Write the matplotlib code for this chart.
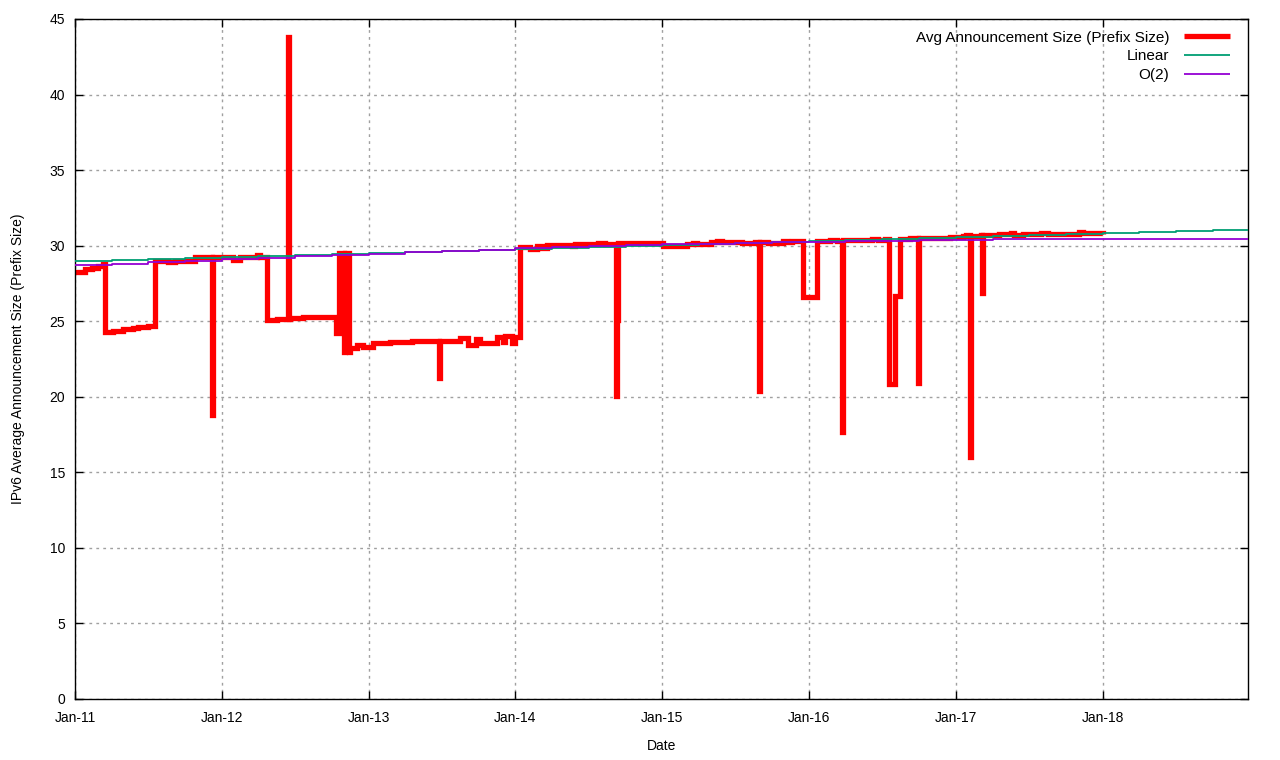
import matplotlib
matplotlib.use('Agg')
import matplotlib.pyplot as plt
import matplotlib.dates as mdates
import pandas as pd

# decimal years and avg prefix size
avg_years = [2011.000, 2011.068, 2011.116, 2011.157, 2011.191, 2011.204, 2011.259, 2011.327,
	2011.395, 2011.429, 2011.498, 2011.545, 2011.634, 2011.682, 2011.818, 2011.934, 2011.941,
	2012.077, 2012.125, 2012.241, 2012.261, 2012.309, 2012.377, 2012.452, 2012.459, 2012.466,
	2012.554, 2012.691, 2012.779, 2012.800, 2012.834, 2012.840, 2012.870, 2012.875, 2012.922,
	2012.963, 2013.031, 2013.147, 2013.297, 2013.481, 2013.488, 2013.624, 2013.679, 2013.733,
	2013.761, 2013.877, 2013.918, 2013.931, 2013.979, 2013.993, 2014.033, 2014.102, 2014.149,
	2014.183, 2014.217, 2014.388, 2014.408, 2014.565, 2014.613, 2014.688, 2014.695, 2014.701,
	2014.851, 2015.008, 2015.172, 2015.213, 2015.240, 2015.335, 2015.376, 2015.410, 2015.472,
	2015.547, 2015.635, 2015.663, 2015.670, 2015.724, 2015.826, 2015.853, 2015.888, 2015.963,
	2016.058, 2016.147, 2016.194, 2016.228, 2016.235, 2016.290, 2016.337, 2016.433, 2016.474,
	2016.521, 2016.549, 2016.590, 2016.624, 2016.692, 2016.746, 2016.753, 2016.965, 2016.978,
	2017.046, 2017.067, 2017.094, 2017.101, 2017.169, 2017.176, 2017.183, 2017.292, 2017.374,
	2017.394, 2017.455, 2017.524, 2017.578, 2017.626, 2017.837, 2017.864, 2018.000]
avg_size = [28.28, 28.44, 28.50, 28.65, 28.80, 24.27, 24.35, 24.47,
	24.55, 24.60, 24.66, 29.00, 28.95, 29.00, 29.23, 18.80, 29.23,
	29.05, 29.23, 29.40, 29.25, 25.08, 25.15, 43.80, 25.15, 25.20,
	25.25, 25.30, 24.24, 29.50, 22.98, 29.50, 22.98, 23.20, 23.40,
	23.30, 23.54, 23.60, 23.69, 21.27, 23.70, 23.87, 23.40, 23.82,
	23.55, 23.98, 23.60, 24.00, 23.55, 23.95, 29.93, 29.80, 30.00,
	29.85, 30.05, 30.00, 30.10, 30.20, 30.12, 20.05, 25.10, 30.15,
	30.16, 30.00, 30.10, 30.20, 30.10, 30.25, 30.30, 30.22, 30.25,
	30.16, 30.22, 20.40, 30.22, 30.18, 30.30, 30.22, 30.30, 26.58,
	30.30, 30.35, 30.30, 17.67, 30.35, 30.40, 30.38, 30.45, 30.40,
	30.47, 20.83, 26.67, 30.47, 30.52, 20.90, 30.52, 30.58, 30.60,
	30.65, 30.70, 16.00, 30.65, 30.70, 26.90, 30.70, 30.75, 30.82,
	30.70, 30.75, 30.80, 30.84, 30.78, 30.90, 30.82, 30.75]

fit_years = [2011.00, 2011.25, 2011.50, 2011.75, 2012.00, 2012.25, 2012.50, 2012.75,
	2013.00, 2013.25, 2013.50, 2013.75, 2014.00, 2014.25, 2014.50, 2014.75,
	2015.00, 2015.25, 2015.50, 2015.75, 2016.00, 2016.25, 2016.50, 2016.75,
	2017.00, 2017.25, 2017.50, 2017.75, 2018.00, 2018.25, 2018.50, 2018.75, 2019.00]
linear_fit = [29.00, 29.07, 29.13, 29.20, 29.26, 29.33, 29.39, 29.46,
	29.53, 29.59, 29.66, 29.72, 29.79, 29.85, 29.92, 29.98,
	30.05, 30.12, 30.18, 30.25, 30.31, 30.38, 30.44, 30.51,
	30.58, 30.64, 30.71, 30.77, 30.84, 30.90, 30.97, 31.03, 31.10]
quad_fit = [28.70, 28.80, 28.90, 29.00, 29.10, 29.20, 29.30, 29.40,
	29.48, 29.57, 29.65, 29.73, 29.82, 29.88, 29.95, 30.02,
	30.08, 30.13, 30.18, 30.22, 30.26, 30.30, 30.33, 30.36,
	30.39, 30.41, 30.43, 30.44, 30.45, 30.45, 30.45, 30.45, 30.45]

year_ticks = list(range(2011, 2019))
y_ticks = list(range(0, 50, 5))

def to_dates(years):
	out = []
	for y in years:
		start = pd.Timestamp(int(y), 1, 1)
		out.append(start + pd.Timedelta(days=(y - int(y)) * 365.25))
	return out

plt.rcParams['font.family'] = ['Liberation Sans', 'DejaVu Sans']
plt.rcParams['font.size'] = 10

fig = plt.figure(figsize=(12.8, 7.6), dpi=100)
ax = fig.add_axes([75/1280, 61/760, (1248-75)/1280, (699-19)/760])

ax.plot(to_dates(avg_years), avg_size, drawstyle='steps-post', color='#ff0000',
	linewidth=3.8, solid_joinstyle='miter', solid_capstyle='butt',
	label='Avg Announcement Size (Prefix Size)', zorder=2)
ax.plot(to_dates(fit_years), linear_fit, drawstyle='steps-post', color='#009e73',
	linewidth=1.3, solid_capstyle='butt', label='Linear', zorder=3)
ax.plot(to_dates(fit_years), quad_fit, drawstyle='steps-post', color='#9400d3',
	linewidth=1.3, solid_capstyle='butt', label='O(2)', zorder=4)

ax.set_xlim(pd.Timestamp(2011, 1, 1), pd.Timestamp(2018, 12, 29))
ax.set_ylim(0, 45)
ax.set_yticks(y_ticks)
ax.set_xticks([pd.Timestamp(y, 1, 1) for y in year_ticks])
ax.xaxis.set_major_formatter(mdates.DateFormatter('%b-%y'))

ax.grid(True, color='#a0a0a0', linestyle=(0, (2, 3)), linewidth=1.0)
ax.tick_params(direction='in', top=True, right=True, length=6, width=1)
ax.tick_params(axis='x', pad=9)
ax.tick_params(axis='y', pad=7)
for s in ax.spines.values():
	s.set_linewidth(1.0)

ax.set_xlabel('Date', labelpad=10)
ax.set_ylabel('IPv6 Average Announcement Size (Prefix Size)', labelpad=18)

ax.legend(loc='upper right', bbox_to_anchor=(1 - 4/1173, 1 + 2/680), frameon=False,
	markerfirst=False, handlelength=3.0, handletextpad=1.0, labelspacing=0.3,
	borderaxespad=0.5, fontsize=11)

fig.savefig('out.png', dpi=100)
plt.close()
